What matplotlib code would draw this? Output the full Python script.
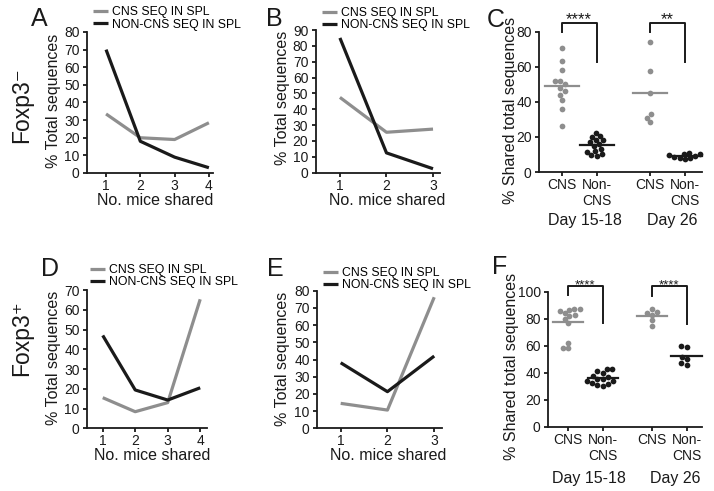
import numpy as np
import matplotlib
matplotlib.use('Agg')
import matplotlib.pyplot as plt

W, H = 714, 491
plt.rcParams['font.family'] = ['Liberation Sans', 'DejaVu Sans']

GRAY = '#8e8e8e'
BLACK = '#1a1a1a'

# ---------------- data ----------------
legend_labels = ['CNS SEQ IN SPL', 'NON-CNS SEQ IN SPL']
mice4 = [1, 2, 3, 4]
mice3 = [1, 2, 3]
a_cns = [33.5, 20, 19, 28.5]
a_noncns = [70, 18, 9, 3]
b_cns = [47.5, 25.5, 27.5]
b_noncns = [85, 12.5, 2.5]
d_cns = [15.5, 8.4, 13, 65.3]
d_noncns = [47, 19.4, 14.3, 20.5]
e_cns = [14.5, 10.6, 76.2]
e_noncns = [38.1, 21.3, 42]

cat_labels = ['CNS', 'Non-\nCNS', 'CNS', 'Non-\nCNS']
group_labels = ['Day 15-18', 'Day 26']

c_cns_d15 = [70.5, 63.5, 58, 52, 52, 50, 48, 46, 44, 41, 36, 26.5]
c_non_d15 = [22, 20.5, 20, 18.5, 18, 17, 16, 15, 13, 12, 11.5, 10, 9.5, 9]
c_cns_d26 = [74, 57.5, 45, 33, 31, 28.5]
c_non_d26 = [11, 10.5, 10, 9, 8, 7.5, 8, 8.5, 9.5]
c_sig = ['****', '**']

f_cns_d15 = [87.5, 87, 86.5, 85.5, 84, 83, 82, 80, 77, 62, 58.5, 58]
f_non_d15 = [43, 42.5, 41, 40, 37.5, 36.5, 35.5, 35, 34, 33.5, 32.5, 32, 31, 30.5]
f_cns_d26 = [87, 85, 84.5, 83, 79, 74.5]
f_non_d26 = [59.5, 59, 52, 50.5, 47, 46]
f_sig = ['****', '****']

# ---------------- helpers ----------------
fig = plt.figure(figsize=(W / 100, H / 100), dpi=100)


def rect(l, r, t, b):
    return [l / W, 1 - b / H, (r - l) / W, (b - t) / H]


def fx(x):
    return x / W


def fy(y):
    return 1 - y / H


def style_axes(ax, xlim, ylim, yticks, xticks, xticklabels=None, xpad=1.5):
    ax.set_xlim(*xlim)
    ax.set_ylim(*ylim)
    for s in ['top', 'right']:
        ax.spines[s].set_visible(False)
    for s in ['left', 'bottom']:
        ax.spines[s].set_linewidth(1.3)
        ax.spines[s].set_color(BLACK)
    ax.set_yticks(yticks)
    ax.set_xticks(xticks)
    if xticklabels is not None:
        ax.set_xticklabels(xticklabels)
    ax.tick_params(axis='both', direction='out', length=3, width=1.3,
                   labelsize=10, colors=BLACK)
    ax.tick_params(axis='y', pad=2.5)
    ax.tick_params(axis='x', pad=xpad)
    ax.patch.set_visible(False)


def line_panel(rc, xs, cns, non, xlim, ylim, yticks, leg_xy, xpad=1.5):
    ax = fig.add_axes(rect(*rc))
    l1, = ax.plot(xs, cns, color=GRAY, lw=2.3, solid_capstyle='butt', clip_on=False)
    l2, = ax.plot(xs, non, color=BLACK, lw=2.3, solid_capstyle='butt', clip_on=False)
    style_axes(ax, xlim, ylim, yticks, xs, xpad=xpad)
    fig.legend([l1, l2], legend_labels, loc='center left',
               bbox_to_anchor=(fx(leg_xy[0]), fy(leg_xy[1])),
               bbox_transform=fig.transFigure, frameon=False, fontsize=8.8,
               handlelength=1.25, handletextpad=0.3, labelspacing=0.02,
               borderpad=0, borderaxespad=0)
    return ax


def swarm(values, d, sx, sy):
    ys = np.asarray(values, dtype=float) * sy
    order = np.argsort(ys)
    placed = []
    offs = np.zeros(len(ys))
    for i in order:
        y = ys[i]
        cands = [0.0]
        for (px, py) in placed:
            dy = y - py
            if abs(dy) < d:
                dx = np.sqrt(d * d - dy * dy)
                cands += [px + dx, px - dx]
        cands.sort(key=lambda c: (abs(c), c))
        for c in cands:
            if all((c - px) ** 2 + (y - py) ** 2 >= d * d - 1e-6 for px, py in placed):
                offs[i] = c
                placed.append((c, y))
                break
    return offs / sx


def dot_panel(rc, pos, groups, colors, xlim, ylim, yticks, sx, sy, hw):
    ax = fig.add_axes(rect(*rc))
    for p, vals, col in zip(pos, groups, colors):
        offs = swarm(vals, 5.4, sx, sy)
        ax.scatter(p + offs, vals, s=17, color=col, linewidths=0, zorder=3, clip_on=False)
        m = np.mean(vals)
        ax.plot([p - hw, p + hw], [m, m], color=col, lw=1.6, zorder=4, clip_on=False)
    style_axes(ax, xlim, ylim, yticks, pos, cat_labels)
    return ax


def bracket(ax, x1, x2, yl, yt, yr, label, ylab, size):
    ax.plot([x1, x1, x2, x2], [yl, yt, yt, yr], color=BLACK, lw=1.4, clip_on=False)
    ax.text((x1 + x2) / 2, ylab, label, ha='center', va='baseline', fontsize=size,
            color=BLACK, clip_on=False)


# ---------------- line panels ----------------
axA = line_panel((87.3, 213, 32, 173), mice4, a_cns, a_noncns, (0.453, 4.12), (0, 80),
                 range(0, 81, 10), (93, 18.5))
axB = line_panel((316, 440, 30, 172.7), mice3, b_cns, b_noncns, (0.486, 3.15), (0, 90),
                 range(0, 91, 10), (321.7, 19.2))
axD = line_panel((87.3, 206.7, 290, 428.3), mice4, d_cns, d_noncns, (0.525, 4.2), (0, 70),
                 range(0, 71, 10), (90, 276.3), xpad=0.8)
axE = line_panel((317.3, 441.7, 290.7, 428.3), mice3, e_cns, e_noncns, (0.5, 3.16), (0, 80),
                 range(0, 81, 10), (323, 279), xpad=0.8)

# ---------------- dot panels ----------------
posC = np.array([1, 2, 3.52, 4.52])
axC = dot_panel((539.3, 701.7, 31.7, 172), posC,
                [c_cns_d15, c_non_d15, c_cns_d26, c_non_d26],
                [GRAY, BLACK, GRAY, BLACK], (0.36, 5.0), (0, 80), range(0, 81, 20),
                35.0, 140.3 / 80, 0.49)
bracket(axC, posC[0], posC[1], 80, 85.1, 63, c_sig[0], 84.3, 12)
bracket(axC, posC[2], posC[3], 80, 85.1, 63, c_sig[1], 84.3, 12)

posF = np.array([1, 2, 3.44, 4.44])
axF = dot_panel((548.3, 701.7, 291.7, 426.7), posF,
                [f_cns_d15, f_non_d15, f_cns_d26, f_non_d26],
                [GRAY, BLACK, GRAY, BLACK], (0.42, 4.88), (0, 100), range(0, 101, 20),
                34.4, 1.35, 0.44)
bracket(axF, posF[0], posF[1], 97.5, 104, 76.6, f_sig[0], 102.2, 9.5)
bracket(axF, posF[2], posF[3], 97, 104, 76, f_sig[1], 102.2, 9.5)

# ---------------- text ----------------
lab = dict(fontsize=11.5, color=BLACK, ha='center', va='center')
for (x, y) in [(53.5, 101), (283, 98), (53.5, 357.5), (282.5, 358.5)]:
    fig.text(fx(x), fy(y), '% Total sequences', rotation=90, **lab)
for (x, y) in [(510, 110), (511.5, 366.5)]:
    fig.text(fx(x), fy(y), '% Shared total sequences', rotation=90, **lab)
for (x, y) in [(155, 200.6), (386.7, 200.6), (152, 456), (388.3, 456)]:
    fig.text(fx(x), fy(y), 'No. mice shared', **lab)
for (x, y), t in zip([(585, 221), (672, 221)], group_labels):
    fig.text(fx(x), fy(y), t, **lab)
for (x, y), t in zip([(589, 478), (675, 478)], group_labels):
    fig.text(fx(x), fy(y), t, **lab)

for (x, y), t in zip([(39, 19.5), (274, 19.5), (496, 20), (50, 269), (275, 269.5), (500, 267.5)],
                     'ABCDEF'):
    fig.text(fx(x), fy(y), t, fontsize=18, color=BLACK, ha='center', va='center')

fig.text(fx(21.5), fy(105), 'Foxp3\u207b', rotation=90, fontsize=16.5, color=BLACK,
         ha='center', va='center')
fig.text(fx(21.5), fy(338), 'Foxp3\u207a', rotation=90, fontsize=16.5, color=BLACK,
         ha='center', va='center')

fig.savefig('out.png', dpi=100)
